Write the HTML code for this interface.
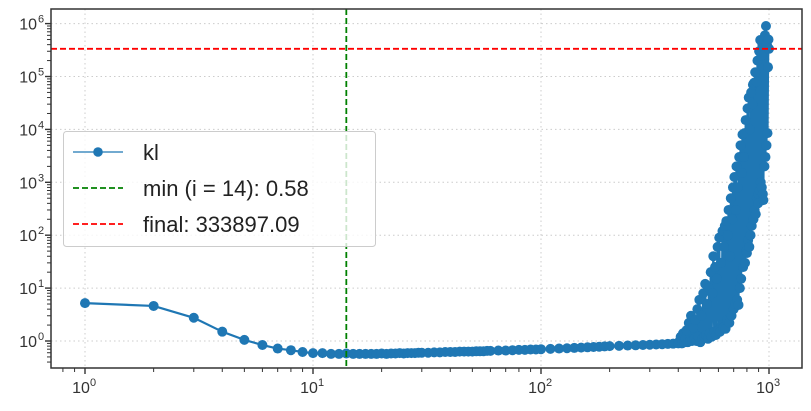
<!DOCTYPE html>
<html><head><meta charset="utf-8"><style>
html,body{margin:0;padding:0;background:#fff;}
svg{display:block;font-family:"Liberation Sans","DejaVu Sans",sans-serif;}
</style></head><body>
<svg id="chart" width="811" height="411" viewBox="0 0 811 411" xmlns="http://www.w3.org/2000/svg">
<rect width="811" height="411" fill="#fff"/>
<g id="grid"></g>
<g id="series"></g>
<g id="refs"></g>
<g id="axes"></g>
<g id="legend"></g>
</svg>
<script>
const earlyIters = [1,2,3,4,5,6,7,8,9,10,11,12,13,14,15,16,17,18,19,20,21,22,23,24,25,26,27,28,29,30,
32,34,36,38,40,42,44,46,48,50,52,54,56,58,60,65,70,75,80,85,90,95,100,110,120,130,140,150,160,170,180,190,200,220,240,260,280,300,320,340,360,380,400];
const earlyValues = [5.2,4.6,2.75,1.5,1.05,0.84,0.72,0.67,0.62,0.59,0.59,0.57,0.57,0.58,0.57,0.57,0.57,0.57,0.57,0.58,0.57,0.58,0.58,0.59,0.58,0.59,0.59,0.59,0.6,0.6,
0.6,0.61,0.61,0.62,0.62,0.62,0.63,0.63,0.63,0.63,0.64,0.64,0.64,0.65,0.65,0.66,0.66,0.67,0.68,0.68,0.69,0.69,0.7,0.71,0.72,0.73,0.74,0.75,0.76,0.77,0.78,0.79,0.8,0.81,0.82,0.83,0.84,0.85,0.86,0.87,0.88,0.89,0.9];
const lateIters = [405,410,415,420,425,430,435,440,445,450,455,460,465,470,475,480,485,490,495,500,
505,510,515,520,525,530,535,540,545,550,555,560,565,570,575,580,585,590,595,600,
605,610,615,620,625,630,635,640,645,650,655,660,665,670,675,680,685,690,695,700,
705,710,715,720,725,730,735,740,745,750,755,760,765,770,775,780,785,790,795,800,
805,810,815,820,825,830,835,840,845,850,855,860,865,870,875,880,885,890,895,900,
905,910,915,920,925,930,935,940,945,950,955,960,965,970,975,980,985,990,995,1000];
const lateValues = [1.0,1.2,0.9,1.4,0.95,1.1,1.6,0.95,2.2,1.0,
3.0,1.0,1.8,1.1,2.5,1.0,4,1.2,6,0.95,
3,1.1,8,1.2,12,1.3,5,1.1,10,1.4,
20,1.2,8,40,1.5,25,1.3,15,60,1.6,
90,1.5,30,2,120,1.8,60,150,1.7,185,
2.5,100,300,2.2,40,500,3,200,800,4,
1260,5,300,2000,6,800,4.8,3000,10,5000,
15,1500,8000,25,3000,8500,30,15000,50,46,
25000,80,40000,60,10000,100,50000,150,30000,70000,
200,76000,300,120000,250,80000,500,200000,400,600,
300000,700,490000,1000,250000,800,400000,600,460,500000,
2000,600000,3000,900000,5000,400000,8500,150000,500000,333897];
const minIter = 14, minVal = 0.58, finalVal = 333897.09;
const xDecades = [0,1,2,3];
const yDecades = [0,1,2,3,4,5,6];

const iters = earlyIters.concat(lateIters);
const klValues = earlyValues.concat(lateValues);

const L=51,R=802,T=9,B=368;
const xPerDec=228, x0=85, yPerDec=52.9, y0=341;
const X = v => x0 + Math.log10(v)*xPerDec;
const Y = v => y0 - Math.log10(v)*yPerDec;
const NS="http://www.w3.org/2000/svg";
function mk(tag, attrs, parent){const e=document.createElementNS(NS,tag);for(const k in attrs)e.setAttribute(k,attrs[k]);parent.appendChild(e);return e;}
const grid=document.getElementById('grid'), series=document.getElementById('series'), refs=document.getElementById('refs'), axes=document.getElementById('axes'), legend=document.getElementById('legend');

xDecades.forEach(d=>{const x=X(Math.pow(10,d));
 const g=mk('line',{x1:x,x2:x,y1:T,y2:B,stroke:'#ccc','stroke-width':1,'stroke-dasharray':'1.5,3'},grid);
 
 });
yDecades.forEach(d=>{const y=Y(Math.pow(10,d));
 const g=mk('line',{x1:L,x2:R,y1:y,y2:y,stroke:'#ccc','stroke-width':1,'stroke-dasharray':'1.5,3'},grid);
 
 });

const pts = iters.map((it,i)=>X(it).toFixed(2)+','+Y(klValues[i]).toFixed(2)).join(' ');
const pl=mk('polyline',{points:pts,fill:'none',stroke:'#1f77b4','stroke-width':2.2,'stroke-linejoin':'round'},series);


iters.forEach((it,i)=>{const c=mk('circle',{cx:X(it),cy:Y(klValues[i]),r:5,fill:'#1f77b4'},series);
 
 });

const vl=mk('line',{x1:X(minIter),x2:X(minIter),y1:T,y2:B,stroke:'#008000','stroke-width':1.8,'stroke-dasharray':'6,3'},refs);


const hl=mk('line',{x1:L,x2:R,y1:Y(finalVal),y2:Y(finalVal),stroke:'#ff0000','stroke-width':1.8,'stroke-dasharray':'6,3'},refs);



const fr=mk('rect',{x:L,y:T,width:R-L,height:B-T,fill:'none',stroke:'#333','stroke-width':1.5},axes);



for(let d=-1; d<=3; d++){for(let m=1;m<10;m++){const v=m*Math.pow(10,d);const x=X(v);if(x<L||x>R)continue;
 const major=m===1;
 const t=mk('line',{x1:x,x2:x,y1:B,y2:B+(major?6:4),stroke:'#333','stroke-width':major?1.4:1},axes);
 
 }}
xDecades.forEach(d=>{const x=X(Math.pow(10,d));
 const t=mk('text',{x:x-4,y:393,'text-anchor':'middle','font-size':16,fill:'#333'},axes);
 
 
 t.textContent='10';
 const s=mk('text',{x:x+5,y:386,'font-size':11,fill:'#333'},axes);
 
 
 s.textContent=String(d);});
for(let d=-1; d<=6; d++){for(let m=1;m<10;m++){const v=m*Math.pow(10,d);const y=Y(v);if(y<T||y>B)continue;
 const major=m===1;
 const t=mk('line',{x1:L,x2:L-(major?6:4),y1:y,y2:y,stroke:'#333','stroke-width':major?1.4:1},axes);
 
 }}
yDecades.forEach(d=>{const y=Y(Math.pow(10,d));
 const t=mk('text',{x:37,y:y+6,'text-anchor':'end','font-size':16,fill:'#333'},axes);
 
 
 t.textContent='10';
 const s=mk('text',{x:38,y:y-1,'font-size':11,fill:'#333'},axes);
 
 
 s.textContent=String(d);});

const lb=mk('rect',{x:63.5,y:131.5,width:312,height:115,rx:3,fill:'#fff','fill-opacity':0.8,stroke:'#ccc','stroke-width':1},legend);


const entries=[['kl','#1f77b4','none',true],['min (i = 14): 0.58','#008000','6,3',false],['final: 333897.09','#ff0000','6,3',false]];
entries.forEach((e,i)=>{const y=152+i*36;
 const g=mk('g',{},legend);
 
 
 mk('line',{x1:73,x2:123,y1:y,y2:y,stroke:e[1],'stroke-width':e[3]?1.2:1.8,'stroke-dasharray':e[2]},g);
 if(e[3]) mk('circle',{cx:98,cy:y,r:4.8,fill:e[1]},g);
 const t=mk('text',{x:143,y:y+8,'font-size':22,fill:'#222'},g);t.textContent=e[0];});
</script>
</body></html>
